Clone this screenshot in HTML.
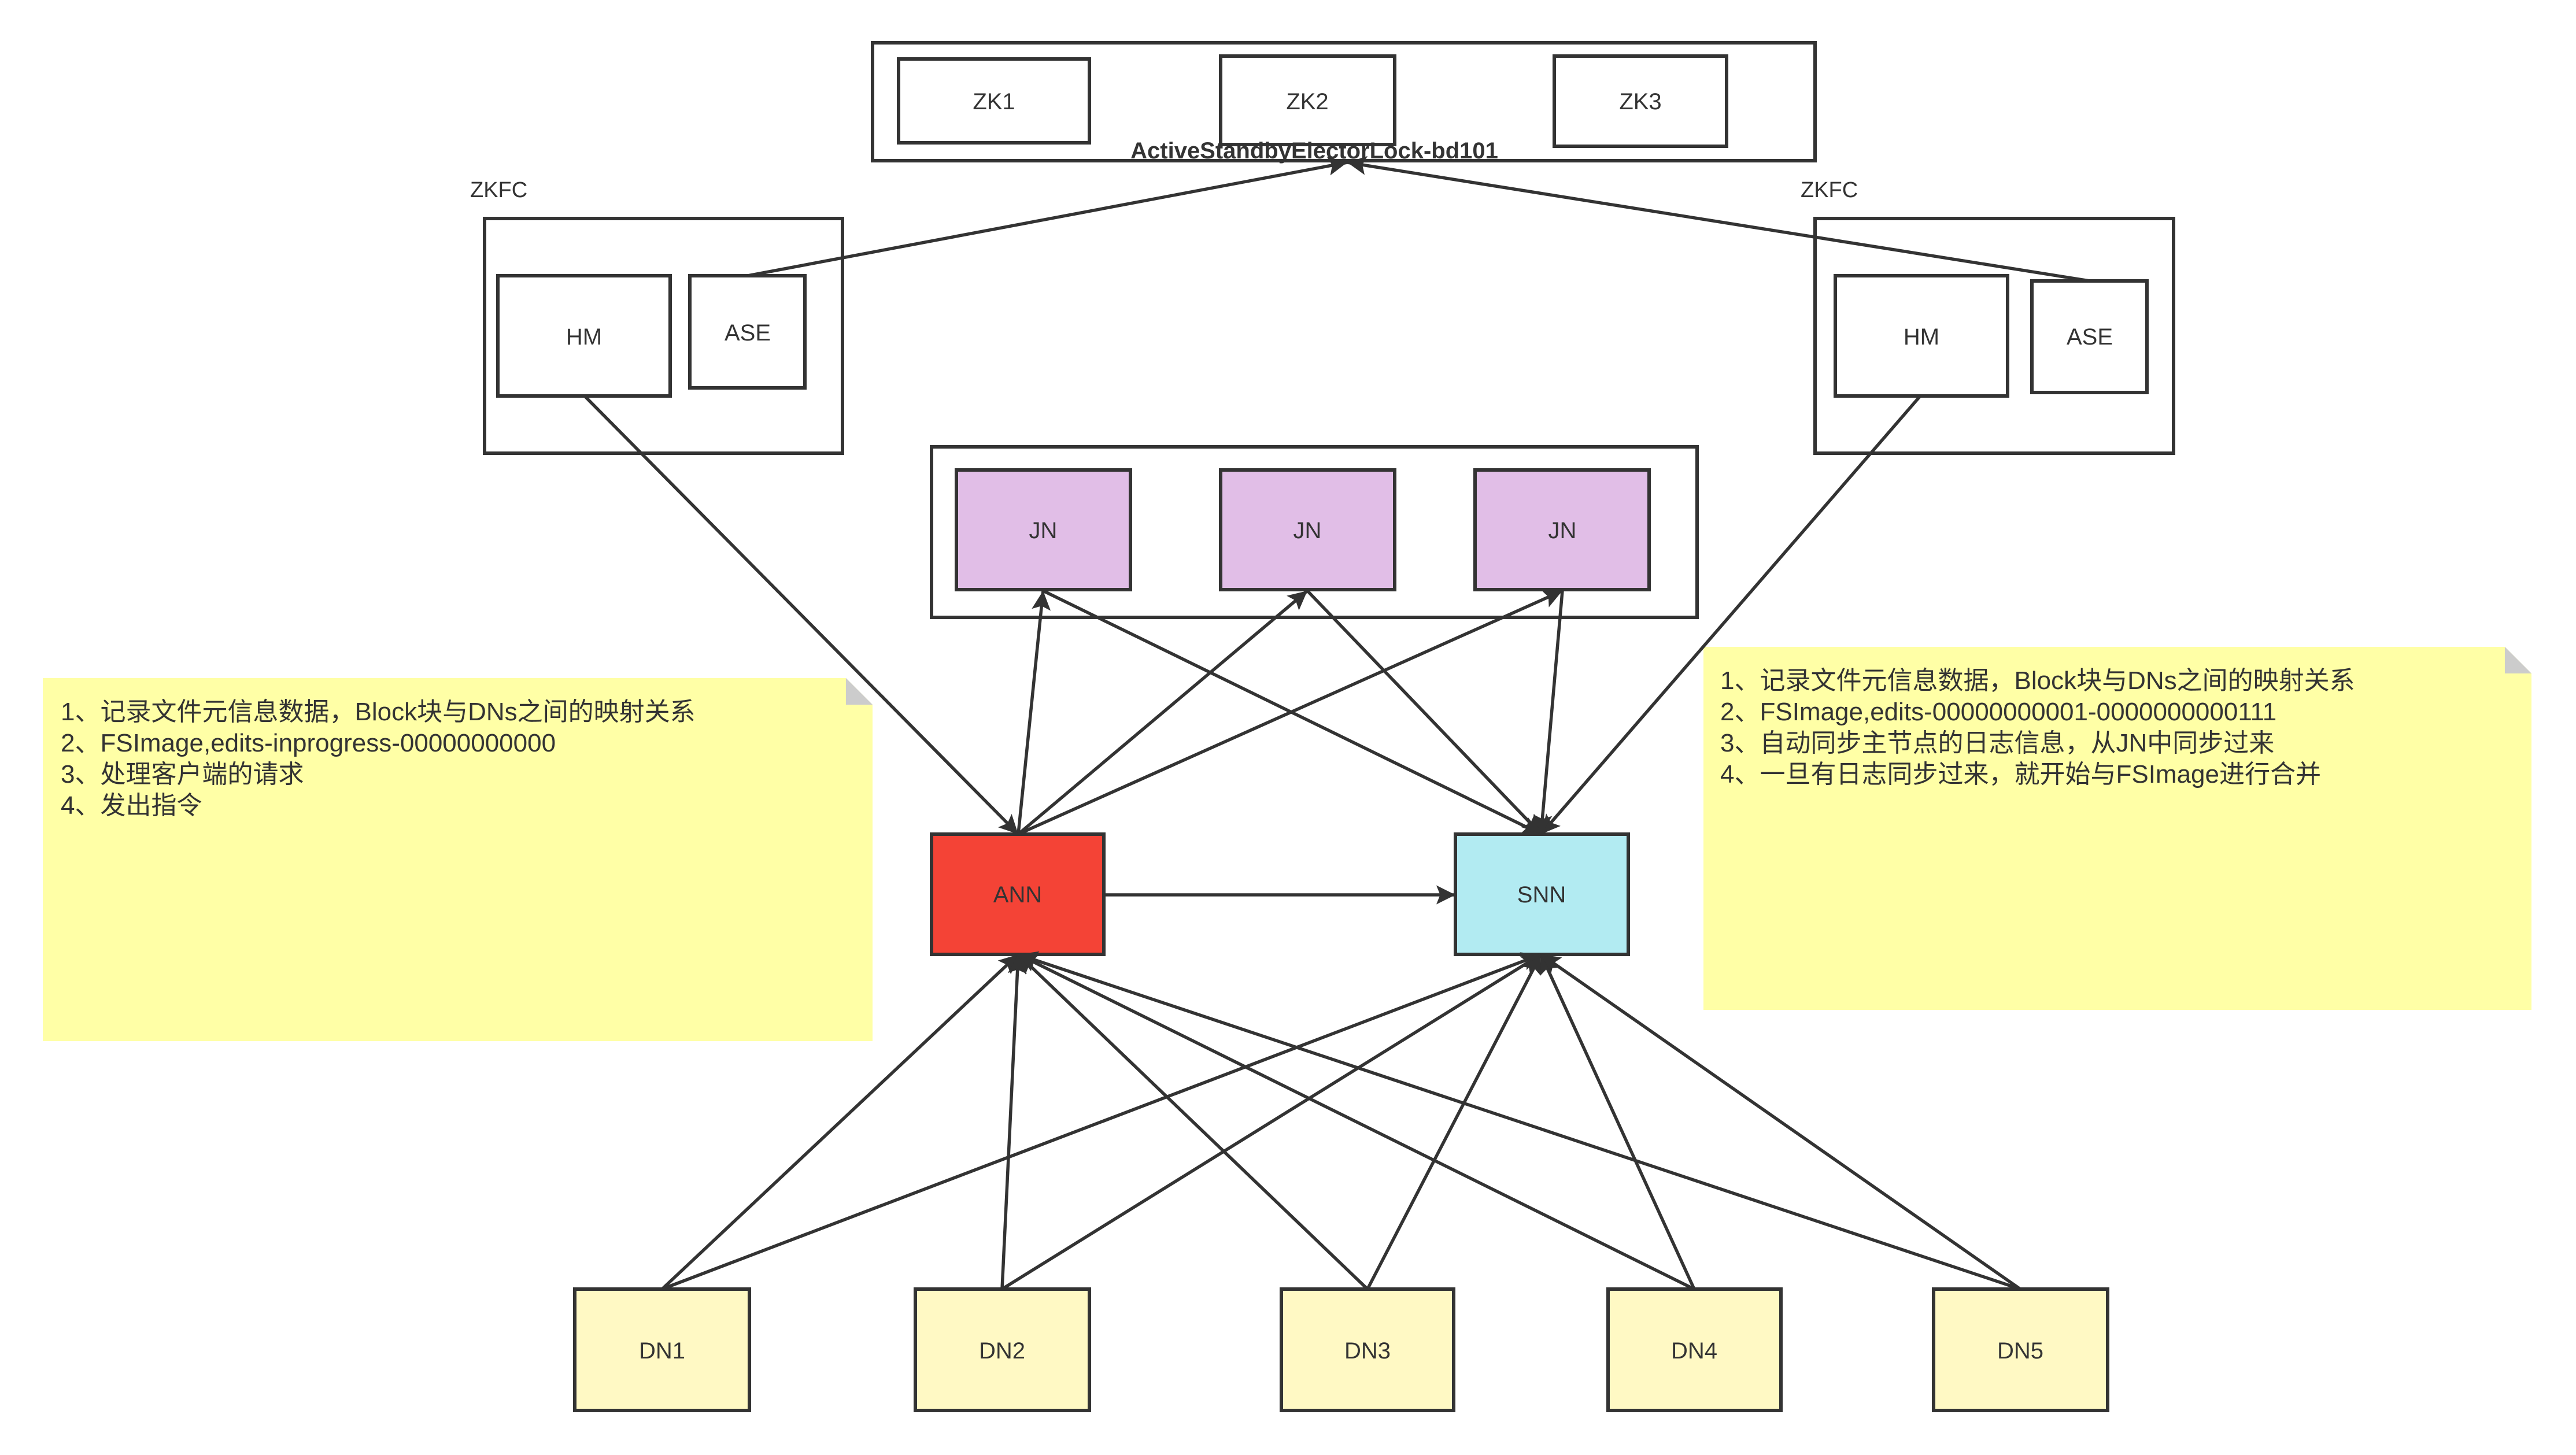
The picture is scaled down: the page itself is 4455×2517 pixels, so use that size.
<!DOCTYPE html>
<html><head><meta charset="utf-8"><style>
html,body{margin:0;padding:0;background:#fff;}
svg{display:block;}
text{font-family:"Liberation Sans","Noto Sans CJK SC",sans-serif;fill:#333;}
</style></head><body>
<svg width="4455" height="2517" viewBox="0 0 4455 2517" xmlns="http://www.w3.org/2000/svg">
<defs>
<marker id="a" viewBox="0 0 10 10" refX="10" refY="5" markerWidth="6" markerHeight="6" orient="auto" markerUnits="strokeWidth">
<path d="M0,0 L10,5 L0,10 L2,5 z" fill="#333"/></marker>
</defs>
<g fill="none" stroke="#333" stroke-width="6">
<rect x="1509" y="74" width="1630" height="204" fill="#fff"/>
<rect x="1554" y="102" width="330" height="145"/>
<rect x="2111" y="97" width="301" height="153"/>
<rect x="2688" y="97" width="298" height="156"/>
<rect x="838" y="378" width="619" height="406"/>
<rect x="861" y="477" width="298" height="208"/>
<rect x="1193" y="477" width="199" height="194"/>
<rect x="3139" y="378" width="620" height="406"/>
<rect x="3174" y="477" width="298" height="208"/>
<rect x="3514" y="486" width="199" height="193"/>
<rect x="1611" y="773" width="1324" height="295"/>
<rect x="1654" y="813" width="301" height="207" fill="#e1bee7"/>
<rect x="2111" y="813" width="301" height="207" fill="#e1bee7"/>
<rect x="2551" y="813" width="301" height="207" fill="#e1bee7"/>
<rect x="1611" y="1443" width="298" height="208" fill="#f44336"/>
<rect x="2517" y="1443" width="299" height="208" fill="#b2ebf2"/>
<rect x="994" y="2230" width="302" height="210" fill="#fff9c4"/>
<rect x="1583" y="2230" width="301" height="210" fill="#fff9c4"/>
<rect x="2216" y="2230" width="298" height="210" fill="#fff9c4"/>
<rect x="2781" y="2230" width="299" height="210" fill="#fff9c4"/>
<rect x="3344" y="2230" width="301" height="210" fill="#fff9c4"/>
</g>
<!-- notes -->
<path d="M74,1173 L1463,1173 L1509,1219 L1509,1801 L74,1801 z" fill="#ffffa6"/>
<path d="M1463,1173 L1509,1219 L1463,1219 z" fill="#ccc"/>
<path d="M2946,1119 L4332,1119 L4378,1165 L4378,1747 L2946,1747 z" fill="#ffffa6"/>
<path d="M4332,1119 L4378,1165 L4332,1165 z" fill="#ccc"/>
<g stroke="#333" stroke-width="5.5" fill="none" marker-end="url(#a)">
<line x1="1293" y1="477" x2="2330" y2="281"/>
<line x1="3614" y1="486" x2="2330" y2="281"/>
<line x1="1011" y1="685" x2="1761" y2="1443"/>
<line x1="3321" y1="685" x2="2665" y2="1443"/>
<line x1="1761" y1="1443" x2="1804" y2="1022"/>
<line x1="1761" y1="1443" x2="2261" y2="1022"/>
<line x1="1761" y1="1443" x2="2702" y2="1022"/>
<line x1="1804" y1="1022" x2="2665" y2="1443"/>
<line x1="2261" y1="1022" x2="2665" y2="1443"/>
<line x1="2702" y1="1022" x2="2665" y2="1443"/>
<line x1="1909" y1="1548" x2="2517" y2="1548"/>
<line x1="1145" y1="2230" x2="1761" y2="1651"/>
<line x1="1145" y1="2230" x2="2665" y2="1651"/>
<line x1="1733" y1="2230" x2="1761" y2="1651"/>
<line x1="1733" y1="2230" x2="2665" y2="1651"/>
<line x1="2365" y1="2230" x2="1761" y2="1651"/>
<line x1="2365" y1="2230" x2="2665" y2="1651"/>
<line x1="2930" y1="2230" x2="1761" y2="1651"/>
<line x1="2930" y1="2230" x2="2665" y2="1651"/>
<line x1="3494" y1="2230" x2="1761" y2="1651"/>
<line x1="3494" y1="2230" x2="2665" y2="1651"/>
</g>
<g font-size="40" text-anchor="middle" dominant-baseline="central">
<text x="1719" y="176">ZK1</text>
<text x="2261" y="176">ZK2</text>
<text x="2837" y="176">ZK3</text>
<text x="1010" y="583">HM</text>
<text x="1293" y="576">ASE</text>
<text x="3323" y="583">HM</text>
<text x="3614" y="583">ASE</text>
<text x="1804" y="918">JN</text>
<text x="2261" y="918">JN</text>
<text x="2702" y="918">JN</text>
<text x="1760" y="1548">ANN</text>
<text x="2666" y="1548">SNN</text>
<text x="1145" y="2337">DN1</text>
<text x="1733" y="2337">DN2</text>
<text x="2365" y="2337">DN3</text>
<text x="2930" y="2337">DN4</text>
<text x="3494" y="2337">DN5</text>
<text x="2273" y="261" font-weight="bold">ActiveStandbyElectorLock-bd101</text>
</g>
<text x="813" y="341" font-size="38">ZKFC</text>
<text x="3114" y="341" font-size="38">ZKFC</text>
<g font-size="44">
<text x="105" y="1246">1、记录文件元信息数据，Block块与DNs之间的映射关系</text>
<text x="105" y="1300">2、FSImage,edits-inprogress-00000000000</text>
<text x="105" y="1354">3、处理客户端的请求</text>
<text x="105" y="1408">4、发出指令</text>
<text x="2975" y="1192">1、记录文件元信息数据，Block块与DNs之间的映射关系</text>
<text x="2975" y="1246">2、FSImage,edits-00000000001-0000000000111</text>
<text x="2975" y="1300">3、自动同步主节点的日志信息，从JN中同步过来</text>
<text x="2975" y="1354">4、一旦有日志同步过来，就开始与FSImage进行合并</text>
</g>
</svg>
</body></html>
